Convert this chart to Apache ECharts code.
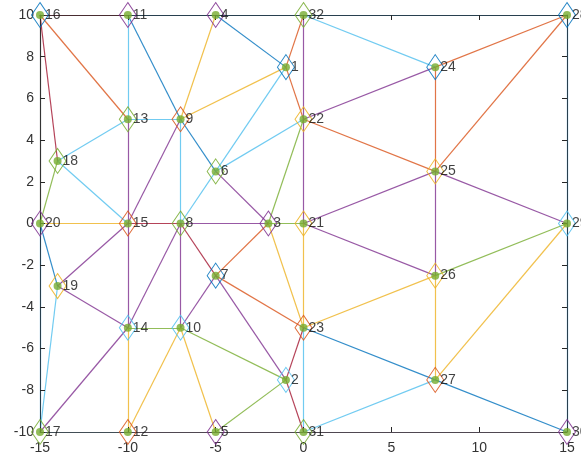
<!DOCTYPE html>
<html>
<head>
<meta charset="utf-8">
<title>Triangular mesh</title>
<script src="https://cdn.jsdelivr.net/npm/echarts@6/dist/echarts.min.js"></script>
<style>
  html, body { margin: 0; padding: 0; background: #fff; }
  #chart { width: 581px; height: 462px; }
</style>
</head>
<body>
<div id="chart"></div>
<script>
// Node coordinates, node n is at index n-1
const nodeX = [-1, -1, -2, -5, -5, -5, -5, -7, -7, -7, -10, -10, -10, -10, -10, -15,
               -15, -14, -14, -15, 0, 0, 0, 7.5, 7.5, 7.5, 7.5, 15, 15, 15, 0, 0];
const nodeY = [7.5, -7.5, 0, 10, -10, 2.5, -2.5, 0, 5, -5, 10, -10, 5, -5, 0, 10,
               -10, 3, -3, 0, 0, 5, -5, 7.5, 2.5, -2.5, -7.5, 10, 0, -10, -10, 10];
const nodeNames = nodeX.map((_, i) => String(i + 1));

// Mesh edges (node numbers) and the colour key each one is drawn in
const edges = [
  [16, 11], [11, 4], [4, 32], [32, 28], [28, 29], [29, 30], [30, 31], [31, 5],
  [5, 12], [12, 17], [16, 20], [20, 17],
  [16, 13], [16, 18], [11, 13], [11, 9], [13, 18], [18, 20], [18, 15], [13, 9],
  [13, 15], [9, 15], [4, 9], [4, 1], [1, 9], [1, 6], [9, 6], [9, 8],
  [6, 8], [6, 3], [8, 3], [15, 8], [20, 15], [32, 1], [1, 22], [6, 22],
  [22, 3], [3, 21], [32, 22], [22, 21], [32, 24], [22, 24], [28, 24], [28, 25],
  [24, 25], [22, 25], [21, 25], [25, 29], [25, 26], [21, 26], [29, 26], [29, 27],
  [26, 27], [27, 30], [26, 23], [21, 23], [23, 27], [31, 27], [23, 31], [3, 23],
  [7, 23], [3, 7], [8, 7], [7, 2], [23, 2], [2, 31], [2, 5], [10, 2],
  [10, 5], [7, 10], [8, 10], [8, 14], [15, 14], [14, 10], [10, 12], [14, 12],
  [20, 19], [15, 19], [19, 14], [14, 17], [19, 17]
];
const edgeTints = [
  'R', 'B', 'B', 'B', 'B', 'B', 'P', 'P',
  'P', 'B', 'K', 'B',
  'O', 'R', 'C', 'B', 'C', 'G', 'C', 'C',
  'P', 'P', 'Y', 'B', 'Y', 'C', 'B', 'C',
  'C', 'P', 'P', 'R', 'Y', 'O', 'O', 'C',
  'G', 'G', 'P', 'P', 'C', 'P', 'O', 'O',
  'O', 'O', 'P', 'P', 'P', 'P', 'G', 'Y',
  'Y', 'B', 'Y', 'Y', 'B', 'C', 'C', 'Y',
  'O', 'O', 'R', 'P', 'R', 'R', 'G', 'G',
  'Y', 'P', 'P', 'P', 'P', 'G', 'Y', 'Y',
  'B', 'P', 'P', 'P', 'C'
];

// Outline colour of the diamond marker on each node
const diamondTints = ['B', 'C', 'P', 'P', 'P', 'G', 'B', 'G', 'O', 'C', 'P', 'O', 'G', 'C', 'O', 'B',
                      'G', 'G', 'Y', 'P', 'Y', 'Y', 'O', 'B', 'Y', 'Y', 'O', 'B', 'C', 'P', 'G', 'G'];

const palette = {
  B: '#0072BD', O: '#D95319', Y: '#EDB120', P: '#7E2F8E',
  G: '#77AC30', C: '#4DBEEE', R: '#A2142F', K: '#333333'
};

const edgeData = edges.map(([a, b], i) => ({
  coords: [[nodeX[a - 1], nodeY[a - 1]], [nodeX[b - 1], nodeY[b - 1]]],
  lineStyle: { color: palette[edgeTints[i]] }
}));

const diamondData = nodeX.map((x, i) => ({
  value: [x, nodeY[i]],
  itemStyle: { borderColor: palette[diamondTints[i]] }
}));

const dotData = nodeX.map((x, i) => ({ name: nodeNames[i], value: [x, nodeY[i]] }));

const axisColor = '#262626';
const font = 'Liberation Sans, Arial, Helvetica, sans-serif';

// Box axes: the frame sits above the mesh edges but below the node markers
function boxAxis(position, min, max, interval, labelMargin) {
  return {
    type: 'value', min, max, interval, position,
    z: 3.5,
    axisLine: { show: true, onZero: false, lineStyle: { color: axisColor, width: 1, opacity: 0.75 } },
    axisTick: { show: true, inside: true, length: 5, lineStyle: { color: axisColor } },
    axisLabel: labelMargin == null
      ? { show: false }
      : { color: '#333', fontSize: 14, fontFamily: font, margin: labelMargin },
    splitLine: { show: false }
  };
}

const chart = echarts.init(document.getElementById('chart'), null, { renderer: 'canvas' });
chart.setOption({
  animation: false,
  backgroundColor: '#ffffff',
  grid: { left: 40, right: 14, top: 15, bottom: 30, containLabel: false },
  xAxis: [
    boxAxis('bottom', -15, 15, 5, 9),
    boxAxis('top', -15, 15, 5, null)
  ],
  yAxis: [
    boxAxis('left', -10, 10, 2, 6),
    boxAxis('right', -10, 10, 2, null)
  ],
  series: [
    {
      type: 'lines',
      coordinateSystem: 'cartesian2d',
      xAxisIndex: 0, yAxisIndex: 0,
      polyline: false,
      silent: true,
      z: 3,
      lineStyle: { width: 1.2, opacity: 0.8 },
      data: edgeData
    },
    {
      type: 'scatter',
      xAxisIndex: 0, yAxisIndex: 0,
      symbol: 'diamond',
      symbolSize: [17, 25],
      silent: true,
      z: 4,
      itemStyle: { color: 'rgba(0,0,0,0)', borderWidth: 1, opacity: 0.85 },
      data: diamondData
    },
    {
      type: 'scatter',
      xAxisIndex: 0, yAxisIndex: 0,
      symbol: 'circle',
      symbolSize: 8,
      silent: true,
      z: 5,
      itemStyle: { color: '#77AC30' },
      label: {
        show: true,
        position: 'right',
        distance: 1,
        formatter: p => p.name,
        color: '#111',
        fontSize: 14,
        fontFamily: font
      },
      data: dotData
    }
  ]
});
</script>
</body>
</html>
